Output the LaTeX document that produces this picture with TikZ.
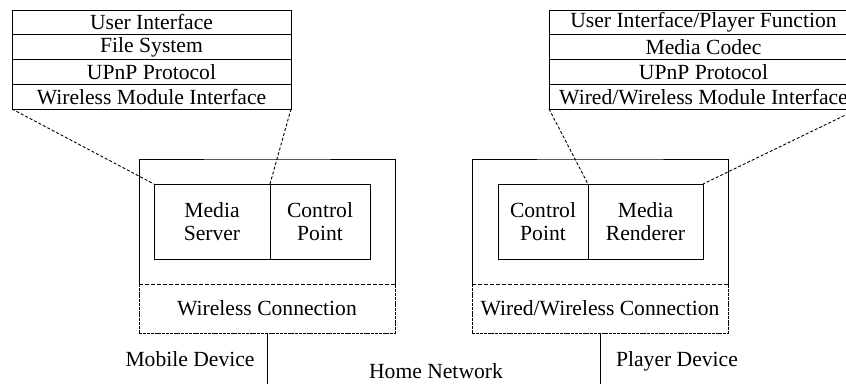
\documentclass[tikz,border=0pt]{standalone}
\usepackage{fontspec}
\setmainfont{Liberation Serif}
\begin{document}
\begin{tikzpicture}[x=1pt,y=-1pt,
  line width=0.9pt,
  every node/.style={font=\fontsize{21.6}{23}\selectfont, inner sep=0pt, outer sep=0pt},
  layer/.style={draw, minimum height=24.75pt},
  unit/.style={draw, minimum height=75pt, align=center},
  frame/.style={draw=none, minimum width=256pt, minimum height=174pt},
  conn/.style={draw=none, minimum width=256pt, minimum height=49pt},
  label/.style={anchor=base},
  finedash/.style={dash pattern=on 3pt off 0.8pt},
  sepdash/.style={dash pattern=on 4pt off 2pt},
  link/.style={dash pattern=on 3pt off 2pt}]
\useasboundingbox (0,0) rectangle (846,383);
\clip (0,0) rectangle (846,383);

% protocol stack of the mobile device
\node[layer, minimum width=279pt] (ls1) at (151.5,22.4) {User Interface};
\node[layer, minimum width=279pt] (ls2) at (151.5,47.1) {File System};
\node[layer, minimum width=279pt] (ls3) at (151.5,71.9) {UPnP Protocol};
\node[layer, minimum width=279pt] (ls4) at (151.5,96.6) {Wireless Module Interface};

% protocol stack of the player device
\node[layer, minimum width=309pt] (rs1) at (703.5,22.4) {User Interface/Player Function};
\node[layer, minimum width=309pt] (rs2) at (703.5,47.1) {Media Codec};
\node[layer, minimum width=309pt] (rs3) at (703.5,71.9) {UPnP Protocol};
\node[layer, minimum width=309pt] (rs4) at (703.5,96.6) {Wired/Wireless Module Interface};

% mobile device
\node[frame] (mob) at (267,246) {};
\node[conn] (wlL) at (267,308.5) {Wireless Connection};
\draw (wlL.north west) |- (mob.north) -| (wlL.north east);
\draw[finedash] (wlL.north west) -- (wlL.south west) -- (wlL.south east) -- (wlL.north east);
\draw[sepdash] (wlL.north west) -- (wlL.north east);
\node[unit, minimum width=116pt] (ms) at (212,221.5) {Media\\Server};
\node[unit, minimum width=100pt] (lcp) at (320,221.5) {Control\\Point};

% player device
\node[frame] (ply) at (600,246) {};
\node[conn] (wlR) at (600,308.5) {Wired/Wireless Connection};
\draw (wlR.north west) |- (ply.north) -| (wlR.north east);
\draw[finedash] (wlR.north west) -- (wlR.south west) -- (wlR.south east) -- (wlR.north east);
\draw[sepdash] (wlR.north west) -- (wlR.north east);
\node[unit, minimum width=90pt] (rcp) at (543,221.5) {Control\\Point};
\node[unit, minimum width=115pt] (mr) at (645.5,221.5) {Media\\Renderer};

% stacks expanded from the device software
\draw[link] (ls4.south west) -- (ms.north west);
\draw[link] (ls4.south east) -- (ms.north east);
\draw[link] (rs4.south west) -- (rcp.north east);
\draw[link] (rs4.south east) -- (mr.north east);

% links to the home network
\coordinate (netL) at (268,390);
\coordinate (netR) at (602,390);
\draw (wlL.south) -- (wlL.south |- netL);
\draw (wlR.south) -- (wlR.south |- netR);

\node[label] (mobl) at (190,366) {Mobile Device};
\node[label] (plyl) at (677,366) {Player Device};
\node[label] (home) at (436,378) {Home Network};
\end{tikzpicture}
\end{document}
